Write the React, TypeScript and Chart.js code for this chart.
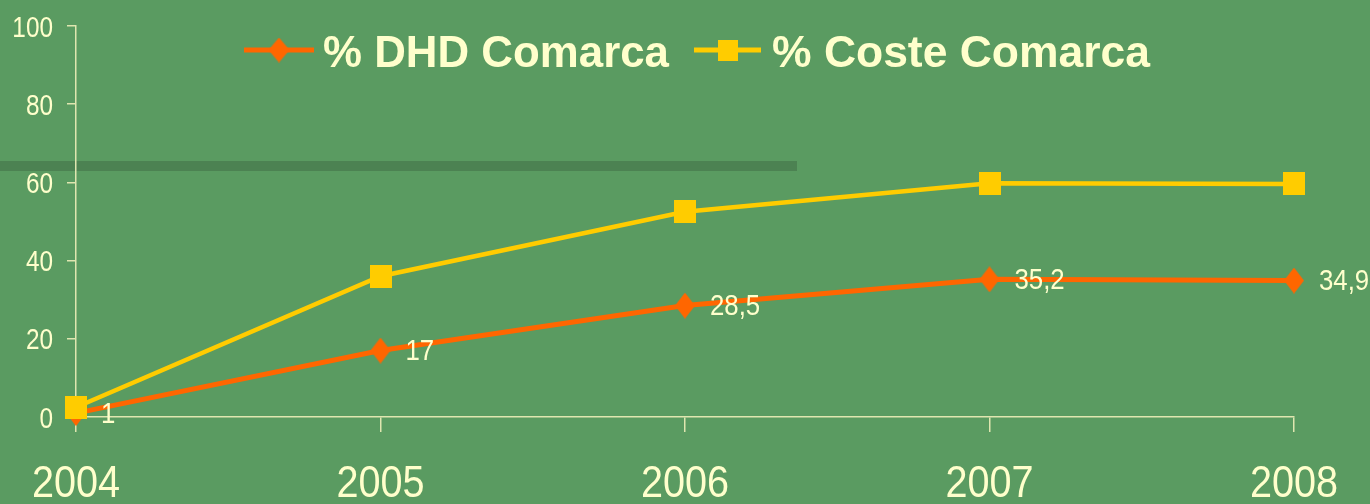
import React, { useEffect, useRef } from 'react';
import { Chart, registerables } from 'chart.js';

Chart.register(...registerables);

const years = ['2004', '2005', '2006', '2007', '2008'];
const dhdValues = [1, 17, 28.5, 35.2, 34.9];
const costeValues = [2.5, 36, 52.5, 59.8, 59.6];
const dhdLabels = ['1', '17', '28,5', '35,2', '34,9'];
const seriesNames = ['% DHD Comarca', '% Coste Comarca'];
const yMin = 0;
const yMax = 100;
const yStep = 20;

const BG = 'rgb(90,155,97)';
const BAND = 'rgb(76,130,82)';
const TEXT = '#ffffcc';
const AXIS = '#dfe6b0';
const ORANGE = '#ff6600';
const YELLOW = '#ffcc00';
const SANS = "'Liberation Sans', Arial, sans-serif";

function makeDiamond(w: number, h: number, color: string) {
  const c = document.createElement('canvas');
  c.width = w;
  c.height = h;
  const ctx = c.getContext('2d')!;
  ctx.fillStyle = color;
  ctx.beginPath();
  ctx.moveTo(w / 2, 0);
  ctx.lineTo(w, h / 2);
  ctx.lineTo(w / 2, h);
  ctx.lineTo(0, h / 2);
  ctx.closePath();
  ctx.fill();
  return c;
}

function makeRect(w: number, h: number, color: string) {
  const c = document.createElement('canvas');
  c.width = w;
  c.height = h;
  const ctx = c.getContext('2d')!;
  ctx.fillStyle = color;
  ctx.fillRect(0, 0, w, h);
  return c;
}

function drawSqueezed(ctx: CanvasRenderingContext2D, text: string, x: number, y: number, sx: number, align: 'left' | 'right' | 'center') {
  ctx.save();
  ctx.translate(x, y);
  ctx.scale(sx, 1);
  ctx.textAlign = align;
  ctx.textBaseline = 'alphabetic';
  ctx.fillText(text, 0, 0);
  ctx.restore();
}

export default function App() {
  const ref = useRef<HTMLCanvasElement | null>(null);

  useEffect(() => {
    if (!ref.current) return;
    const diamond = makeDiamond(20, 26, ORANGE);
    const square = makeRect(22, 23, YELLOW);

    const bgPlugin = {
      id: 'bgPlugin',
      beforeDraw(chart: any) {
        const ctx = chart.ctx;
        ctx.save();
        ctx.fillStyle = BG;
        ctx.fillRect(0, 0, chart.width, chart.height);
        ctx.fillStyle = BAND;
        ctx.fillRect(0, 161, 797, 10);
        ctx.restore();
      },
    };

    const tickPlugin = {
      id: 'tickPlugin',
      afterDraw(chart: any) {
        const ctx = chart.ctx;
        const xs = chart.scales.x;
        const ys = chart.scales.y;
        ctx.save();
        ctx.fillStyle = TEXT;
        ctx.font = `29px ${SANS}`;
        ys.ticks.forEach((t: any, i: number) => {
          const py = ys.getPixelForTick(i);
          drawSqueezed(ctx, String(t.value), 53, py + 10.5, 0.84, 'right');
        });
        ctx.font = `44px ${SANS}`;
        xs.ticks.forEach((t: any, i: number) => {
          const px = xs.getPixelForTick(i);
          drawSqueezed(ctx, years[i], px, 497, 0.9, 'center');
        });
        ctx.restore();
      },
    };

    const labelPlugin = {
      id: 'labelPlugin',
      afterDatasetsDraw(chart: any) {
        const ctx = chart.ctx;
        const meta = chart.getDatasetMeta(0);
        ctx.save();
        ctx.fillStyle = TEXT;
        ctx.font = `30px ${SANS}`;
        meta.data.forEach((pt: any, i: number) => {
          drawSqueezed(ctx, dhdLabels[i], pt.x + 25, pt.y + 9.5, 0.86, 'left');
        });
        ctx.restore();
      },
    };

    const legendPlugin = {
      id: 'legendPlugin',
      afterDraw(chart: any) {
        const ctx = chart.ctx;
        ctx.save();
        const items = [
          { x0: 244, x1: 314, color: ORANGE, img: makeDiamond(21, 25, ORANGE), tx: 323, tw: 346 },
          { x0: 694, x1: 761, color: YELLOW, img: makeRect(20, 21, YELLOW), tx: 772, tw: 378 },
        ];
        const ly = 50;
        items.forEach((it, i) => {
          ctx.strokeStyle = it.color;
          ctx.lineWidth = 5;
          ctx.beginPath();
          ctx.moveTo(it.x0, ly);
          ctx.lineTo(it.x1, ly);
          ctx.stroke();
          const cx = (it.x0 + it.x1) / 2;
          ctx.drawImage(it.img, cx - it.img.width / 2, ly - it.img.height / 2);
          ctx.font = `bold 44px ${SANS}`;
          const w = ctx.measureText(seriesNames[i]).width;
          ctx.fillStyle = TEXT;
          drawSqueezed(ctx, seriesNames[i], it.tx, 67, it.tw / w, 'left');
        });
        ctx.restore();
      },
    };

    const chart = new Chart(ref.current, {
      type: 'line',
      data: {
        labels: years,
        datasets: [
          {
            label: seriesNames[0],
            data: dhdValues,
            borderColor: ORANGE,
            backgroundColor: ORANGE,
            borderWidth: 5,
            pointStyle: diamond as any,
            pointRadius: 12,
            clip: false as any,
            order: 1,
          },
          {
            label: seriesNames[1],
            data: costeValues,
            borderColor: YELLOW,
            backgroundColor: YELLOW,
            borderWidth: 4.5,
            pointStyle: square as any,
            pointRadius: 12,
            clip: false as any,
            order: 0,
          },
        ],
      },
      options: {
        responsive: false,
        animation: false,
        events: [],
        layout: { padding: { top: 17.5, right: 76, left: 0, bottom: 0 } },
        plugins: {
          legend: { display: false },
          tooltip: { enabled: false },
        },
        scales: {
          x: {
            offset: false,
            grid: {
              display: true,
              drawOnChartArea: false,
              drawTicks: true,
              tickLength: 15,
              color: AXIS,
              lineWidth: 1.5,
              offset: false,
            },
            border: { display: true, color: AXIS, width: 1.5 },
            ticks: {
              color: 'rgba(0,0,0,0)',
              font: { size: 20, family: SANS },
              padding: 8,
              maxRotation: 0,
              autoSkip: false,
            },
            afterFit(scale: any) {
              scale.height = 87;
            },
          },
          y: {
            min: yMin,
            max: yMax,
            grid: {
              display: true,
              drawOnChartArea: false,
              drawTicks: true,
              tickLength: 9,
              color: AXIS,
              lineWidth: 1.5,
            },
            border: { display: true, color: AXIS, width: 1.5 },
            ticks: {
              stepSize: yStep,
              color: 'rgba(0,0,0,0)',
              font: { size: 20, family: SANS },
              padding: 14,
            },
            afterFit(scale: any) {
              scale.width = 76;
            },
          },
        },
      },
      plugins: [bgPlugin, labelPlugin, tickPlugin, legendPlugin],
    });

    return () => chart.destroy();
  }, []);

  return (
    <div style={{ position: 'absolute', left: 0, top: 0, width: 1370, height: 504 }}>
      <canvas ref={ref} width={1370} height={504} style={{ display: 'block' }} />
    </div>
  );
}
